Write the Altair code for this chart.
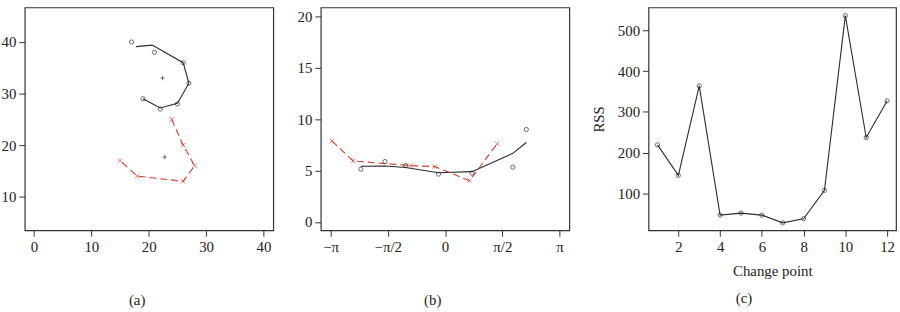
import math
import altair as alt
import pandas as pd

# ---------- Panel (a) ----------
a_circ_x = [17, 21, 26, 27, 25, 22, 19]
a_circ_y = [40, 38, 36, 32, 28, 27, 29]
a_fit_x = [17.8, 20.6, 26, 27, 25, 22, 19]
a_fit_y = [39.1, 39.4, 36, 32, 28.1, 27.2, 29]
a_cross_x = [24, 26, 28, 26, 18, 15]
a_cross_y = [25, 20, 16, 13, 14, 17]
a_center_x = [22.4, 22.8]
a_center_y = [33, 17.7]

# ---------- Panel (b) ----------
b_circ_x = [-2.31, -1.65, -1.08, -0.18, 0.74, 1.86, 2.23]
b_circ_y = [5.14, 5.88, 5.49, 4.66, 4.76, 5.34, 9.0]
b_fit_x = [-2.31, -1.65, -1.08, -0.18, 0.74, 1.86, 2.23]
b_fit_y = [5.43, 5.45, 5.3, 4.8, 4.9, 6.68, 7.74]
b_cross_x = [-3.10, -2.52, -0.96, -0.28, 0.67, 1.43]
b_cross_y = [7.87, 5.94, 5.49, 5.39, 4.02, 7.61]

# ---------- Panel (c) ----------
c_x = [1, 2, 3, 4, 5, 6, 7, 8, 9, 10, 11, 12]
c_rss = [219, 144, 364, 46, 51, 46, 27, 37, 107, 537, 237, 327]

FONT = "Liberation Serif"
FS = 15
DARK = "#2b2b2b"
RED = "#d93a2f"
XSHAPE = "M-1,-1L1,1M1,-1L-1,1"
PLUS = "M-1,0L1,0M0,-1L0,1"

W, H = 251, 225


def cap(text, offset):
    return alt.TitleParams(text, orient="bottom", anchor="middle", frame="bounds",
                           offset=offset, font=FONT, fontSize=FS, fontWeight="normal",
                           color="#222")


# Panel (a)
da_c = pd.DataFrame({"x": a_circ_x, "y": a_circ_y})
da_f = pd.DataFrame({"x": a_fit_x, "y": a_fit_y, "o": list(range(len(a_fit_x)))})
da_x = pd.DataFrame({"x": a_cross_x, "y": a_cross_y, "o": list(range(len(a_cross_x)))})
da_p = pd.DataFrame({"x": a_center_x, "y": a_center_y})

xa = alt.X("x:Q", scale=alt.Scale(domain=[-1.6, 41.7], nice=False, zero=False),
           axis=alt.Axis(values=[0, 10, 20, 30, 40], title=None))
ya = alt.Y("y:Q", scale=alt.Scale(domain=[3.5, 46.7], nice=False, zero=False),
           axis=alt.Axis(values=[10, 20, 30, 40], title=None, minExtent=22, maxExtent=22))

pa = alt.layer(
    alt.Chart(da_f).mark_line(color=DARK, strokeWidth=1.1).encode(x=xa, y=ya, order="o:Q"),
    alt.Chart(da_x).mark_line(color=RED, strokeWidth=1.1, strokeDash=[7, 4]).encode(x=xa, y=ya, order="o:Q"),
    alt.Chart(da_c).mark_point(shape="circle", size=18, color=DARK, strokeWidth=1).encode(x=xa, y=ya),
    alt.Chart(da_x).mark_point(shape=XSHAPE, size=20, color=RED, strokeWidth=1).encode(x=xa, y=ya),
    alt.Chart(da_p).mark_point(shape=PLUS, size=18, color=DARK, strokeWidth=1).encode(x=xa, y=ya),
).properties(width=W, height=H, title=cap("(a)", 39))

# Panel (b)
db_c = pd.DataFrame({"x": b_circ_x, "y": b_circ_y})
db_f = pd.DataFrame({"x": b_fit_x, "y": b_fit_y})
db_x = pd.DataFrame({"x": b_cross_x, "y": b_cross_y})

pi_expr = ("datum.value < -3 ? '\u2212\u03c0' : datum.value < -1 ? '\u2212\u03c0/2' : "
           "datum.value > 3 ? '\u03c0' : datum.value > 1 ? '\u03c0/2' : '0'")
xb = alt.X("x:Q", scale=alt.Scale(domain=[-3.41, 3.41], nice=False, zero=False),
           axis=alt.Axis(values=[-math.pi, -math.pi / 2, 0.0, math.pi / 2, math.pi],
                         labelExpr=pi_expr, title=None))
yb = alt.Y("y:Q", scale=alt.Scale(domain=[-0.8, 20.87], nice=False, zero=False),
           axis=alt.Axis(values=[0, 5, 10, 15, 20], title=None, minExtent=25, maxExtent=25))

pb = alt.layer(
    alt.Chart(db_f).mark_line(color=DARK, strokeWidth=1.1).encode(x=xb, y=yb),
    alt.Chart(db_x).mark_line(color=RED, strokeWidth=1.1, strokeDash=[7, 4]).encode(x=xb, y=yb),
    alt.Chart(db_c).mark_point(shape="circle", size=18, color=DARK, strokeWidth=1).encode(x=xb, y=yb),
    alt.Chart(db_x).mark_point(shape=XSHAPE, size=20, color=RED, strokeWidth=1).encode(x=xb, y=yb),
).properties(width=W, height=H, title=cap("(b)", 39))

# Panel (c)
dc = pd.DataFrame({"x": c_x, "y": c_rss})
xc = alt.X("x:Q", scale=alt.Scale(domain=[0.57, 12.43], nice=False, zero=False),
           axis=alt.Axis(values=[2, 4, 6, 8, 10, 12], title="Change point", titlePadding=10))
yc = alt.Y("y:Q", scale=alt.Scale(domain=[8.8, 557], nice=False, zero=False),
           axis=alt.Axis(values=[100, 200, 300, 400, 500], title="RSS", titlePadding=9,
                         minExtent=33, maxExtent=33))

pc = alt.layer(
    alt.Chart(dc).mark_line(color=DARK, strokeWidth=1.1).encode(x=xc, y=yc),
    alt.Chart(dc).mark_point(shape="circle", size=18, color=DARK, strokeWidth=1).encode(x=xc, y=yc),
).properties(width=250, height=H, title=cap("(c)", 12))

chart = alt.hconcat(pa, pb, pc, spacing=21).properties(
    padding={"left": 0, "top": 5, "right": 3, "bottom": 0},
    background="white",
).configure_view(
    stroke="#333", strokeWidth=1.2
).configure_axis(
    domain=False, grid=False, tickColor="#333", tickSize=6, tickWidth=1,
    labelFont=FONT, labelFontSize=FS, labelColor="#222", labelPadding=3,
    titleFont=FONT, titleFontSize=FS, titleFontWeight="normal", titleColor="#222"
)

chart.save("out.html", embed_options={"renderer": "svg", "actions": False})
